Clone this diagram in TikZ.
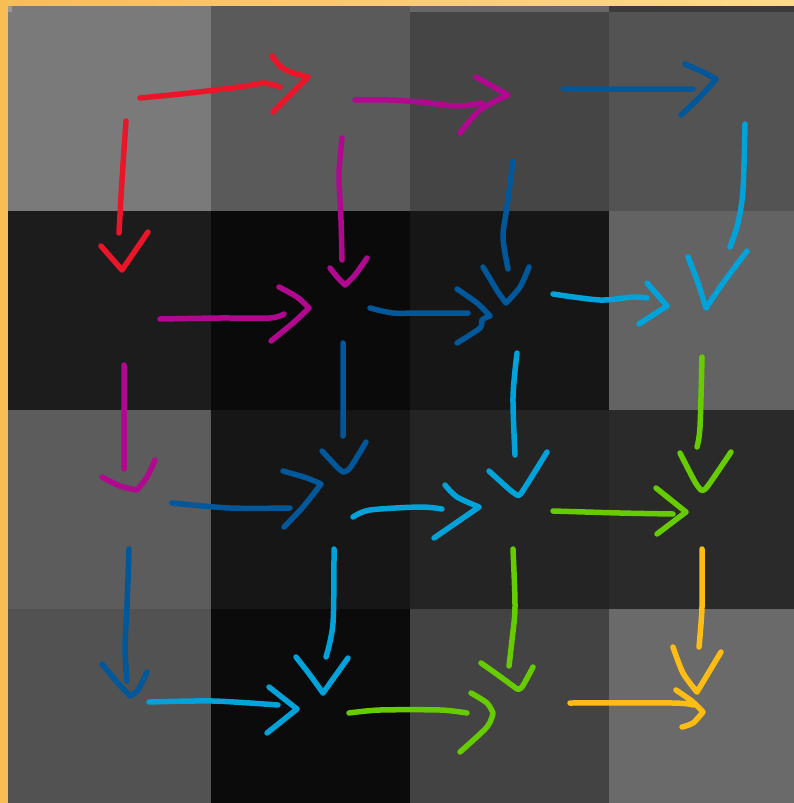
\documentclass[tikz,border=0pt]{standalone}
\usepackage{tikz}
\definecolor{orL}{HTML}{F6BE55}
\definecolor{orR}{HTML}{FDDA8E}
\definecolor{cR}{HTML}{EA1529}
\definecolor{cM}{HTML}{B0088F}
\definecolor{cB}{HTML}{00589B}
\definecolor{cC}{HTML}{00A2DA}
\definecolor{cG}{HTML}{66CC00}
\definecolor{cY}{HTML}{FFBD14}
\tikzset{pen/.style={line width=5.5pt,line cap=round,line join=round}}
\begin{document}
\begin{tikzpicture}[x=1pt,y=-1pt]
\useasboundingbox (0,0) rectangle (794,803);
\shade[left color=orL,right color=orR] (0,0) rectangle (794,803);
% cells row 0
\fill[fill={rgb,255:red,122;green,122;blue,122}] (8,6) rectangle (211,211);
\fill[fill={rgb,255:red,90;green,90;blue,90}] (211,6) rectangle (410,211);
\fill[fill={rgb,255:red,69;green,69;blue,69}] (410,12) rectangle (609,211);
\fill[fill={rgb,255:red,103;green,103;blue,103}] (410,6) rectangle (609,12);
\fill[fill={rgb,255:red,83;green,83;blue,83}] (609,12) rectangle (794,211);
\fill[fill={rgb,255:red,59;green,59;blue,59}] (609,6) rectangle (794,12);
\fill[fill={rgb,255:red,153;green,153;blue,153}] (8,6) rectangle (12,12);
% row 1
\fill[fill={rgb,255:red,28;green,28;blue,28}] (8,211) rectangle (211,410);
\fill[fill={rgb,255:red,10;green,10;blue,10}] (211,211) rectangle (410,410);
\fill[fill={rgb,255:red,22;green,22;blue,22}] (410,211) rectangle (609,410);
\fill[fill={rgb,255:red,99;green,99;blue,99}] (609,211) rectangle (794,410);
% row 2
\fill[fill={rgb,255:red,92;green,92;blue,92}] (8,410) rectangle (211,609);
\fill[fill={rgb,255:red,22;green,22;blue,22}] (211,410) rectangle (410,609);
\fill[fill={rgb,255:red,36;green,36;blue,36}] (410,410) rectangle (609,609);
\fill[fill={rgb,255:red,42;green,42;blue,42}] (609,410) rectangle (794,609);
% row 3
\fill[fill={rgb,255:red,82;green,82;blue,82}] (8,609) rectangle (211,803);
\fill[fill={rgb,255:red,11;green,11;blue,11}] (211,609) rectangle (410,803);
\fill[fill={rgb,255:red,67;green,67;blue,67}] (410,609) rectangle (609,803);
\fill[fill={rgb,255:red,106;green,106;blue,106}] (609,609) rectangle (794,803);

% arrow tips
\coordinate (r1) at (308,77);
\coordinate (r2) at (122,270);
\coordinate (m1) at (508,95);
\coordinate (m2) at (345,285);
\coordinate (m3) at (309,308);
\coordinate (m4) at (137,490);
\coordinate (b1) at (716,79);
\coordinate (b2) at (506,303);
\coordinate (b3) at (490,316);
\coordinate (b4) at (343,472);
\coordinate (b5) at (321,484);
\coordinate (b6) at (130,696);
\coordinate (c1) at (667,306);
\coordinate (c2) at (706,308);
\coordinate (c3) at (479,507);
\coordinate (c4) at (517,495);
\coordinate (c5) at (323,693);
\coordinate (c6) at (297,709);
\coordinate (g1) at (701,490);
\coordinate (g2) at (686,512);
\coordinate (g3) at (493,713);
\coordinate (g4) at (517,689);
\coordinate (y1) at (697,692);
\coordinate (y2) at (703,712);

% red
\draw[pen,cR] plot[smooth] coordinates {(140,98) (190,93) (240,87) (264,83) (280,87)}
  plot[smooth] coordinates {(r1) (290,72) (280,66) (272,56)}
  plot[smooth] coordinates {(r1) (290,95) (273,112)};
\draw[pen,cR] plot[smooth] coordinates {(126,121) (122,180) (119,233)}
  plot[smooth] coordinates {(r2) (101,246)}
  plot[smooth] coordinates {(r2) (148,232)};
% magenta
\draw[pen,cM] plot[smooth] coordinates {(355,100) (390,100) (420,102) (457,106) (482,103)}
  plot[smooth] coordinates {(m1) (476,77)}
  plot[smooth] coordinates {(m1) (480,110) (460,133)};
\draw[pen,cM] plot[smooth] coordinates {(342,138) (339,175) (341,220) (342,260)}
  plot[smooth] coordinates {(m2) (338,278) (330,268)}
  plot[smooth] coordinates {(m2) (355,275) (367,258)};
\draw[pen,cM] plot[smooth] coordinates {(160,319) (220,318) (270,318) (284,314)}
  plot[smooth] coordinates {(m3) (297,297) (279,287)}
  plot[smooth] coordinates {(m3) (293,323) (271,341)};
\draw[pen,cM] plot[smooth] coordinates {(124,365) (124,420) (124,469)}
  plot[smooth] coordinates {(m4) (120,486) (102,477)}
  plot[smooth] coordinates {(m4) (147,477) (155,460)};
% dark blue
\draw[pen,cB] plot[smooth] coordinates {(563,89) (693,89)}
  plot[smooth] coordinates {(b1) (703,72) (685,64)}
  plot[smooth] coordinates {(b1) (700,97) (681,115)};
\draw[pen,cB] plot[smooth] coordinates {(513,161) (507,207) (503,237) (508,269)}
  plot[smooth] coordinates {(b2) (498,292) (483,267)}
  plot[smooth] coordinates {(b2) (520,287) (529,267)};
\draw[pen,cB] plot[smooth] coordinates {(370,308) (393,313) (420,313) (468,313)}
  plot[smooth] coordinates {(b3) (477,303) (457,289)}
  plot[smooth] coordinates {(b3) (482,320) (480,328) (457,343)};
\draw[pen,cB] plot[smooth] coordinates {(343,343) (343,436)}
  plot[smooth] coordinates {(b4) (337,467) (322,451)}
  plot[smooth] coordinates {(b4) (350,468) (366,442)};
\draw[pen,cB] plot[smooth] coordinates {(172,503) (230,508) (290,508)}
  plot[smooth] coordinates {(b5) (307,478) (283,471)}
  plot[smooth] coordinates {(b5) (303,507) (284,527)};
\draw[pen,cB] plot[smooth] coordinates {(129,549) (127,607) (125,647) (127,681)}
  plot[smooth] coordinates {(b6) (117,682) (102,664)}
  plot[smooth] coordinates {(b6) (138,690) (147,672)};
% light blue
\draw[pen,cC] plot[smooth] coordinates {(553,294) (600,300) (633,297) (647,298)}
  plot[smooth] coordinates {(c1) (647,283)}
  plot[smooth] coordinates {(c1) (639,324)};
\draw[pen,cC] plot[smooth] coordinates {(745,124) (743,190) (738,223) (730,247)}
  plot[smooth] coordinates {(c2) (697,280) (688,257)}
  plot[smooth] coordinates {(c2) (723,283) (747,251)};
\draw[pen,cC] plot[smooth] coordinates {(353,517) (370,510) (420,507) (442,509)}
  plot[smooth] coordinates {(c3) (457,497) (445,485)}
  plot[smooth] coordinates {(c3) (434,538)};
\draw[pen,cC] plot[smooth] coordinates {(517,353) (513,397) (515,455)}
  plot[smooth] coordinates {(c4) (510,490) (489,471)}
  plot[smooth] coordinates {(c4) (522,492) (547,452)};
\draw[pen,cC] plot[smooth] coordinates {(334,549) (333,623) (326,657)}
  plot[smooth] coordinates {(c5) (310,675) (296,657)}
  plot[smooth] coordinates {(c5) (348,658)};
\draw[pen,cC] plot[smooth] coordinates {(149,702) (213,701) (278,705)}
  plot[smooth] coordinates {(c6) (269,687)}
  plot[smooth] coordinates {(c6) (267,733)};
% green
\draw[pen,cG] plot[smooth] coordinates {(702,357) (700,427) (697,447)}
  plot[smooth] coordinates {(g1) (695,482) (680,453)}
  plot[smooth] coordinates {(g1) (707,487) (731,452)};
\draw[pen,cG] plot[smooth] coordinates {(553,511) (620,513) (673,514)}
  plot[smooth] coordinates {(g2) (656,488)}
  plot[smooth] coordinates {(g2) (657,534)};
\draw[pen,cG] plot[smooth] coordinates {(349,713) (380,710) (440,710) (467,713)}
  plot[smooth] coordinates {(g3) (487,703) (471,693)}
  plot[smooth] coordinates {(g3) (487,727) (460,752)};
\draw[pen,cG] plot[smooth] coordinates {(513,549) (515,607) (512,640) (509,666)}
  plot[smooth] coordinates {(g4) (498,675) (481,663)}
  plot[smooth] coordinates {(g4) (522,687) (533,667)};
% yellow
\draw[pen,cY] plot[smooth] coordinates {(702,549) (702,607) (699,647)}
  plot[smooth] coordinates {(y1) (683,673) (673,647)}
  plot[smooth] coordinates {(y1) (721,652)};
\draw[pen,cY] plot[smooth] coordinates {(570,703) (673,703) (693,705)}
  plot[smooth] coordinates {(y2) (693,702) (676,690)}
  plot[smooth] coordinates {(y2) (693,723) (682,727)};
\end{tikzpicture}
\end{document}
